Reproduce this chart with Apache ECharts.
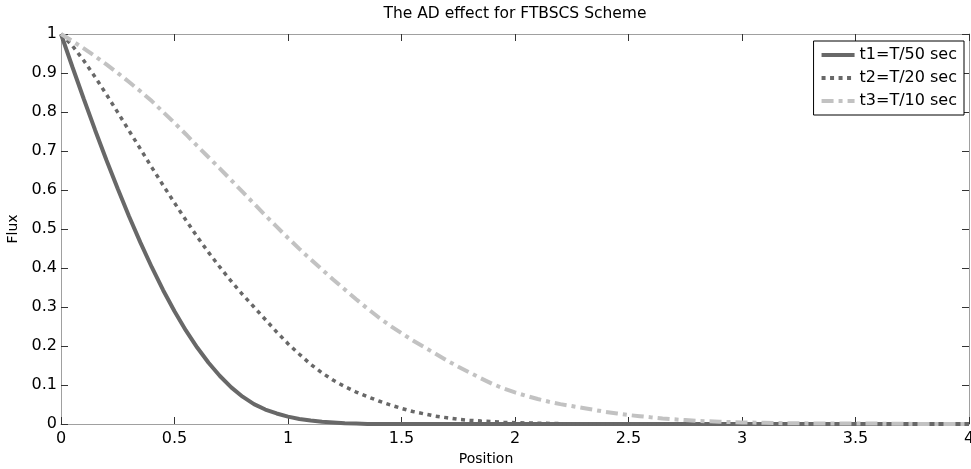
<!DOCTYPE html>
<html>
<head>
<meta charset="utf-8">
<title>The AD effect for FTBSCS Scheme</title>
<script src="https://cdn.jsdelivr.net/npm/echarts@6/dist/echarts.min.js"></script>
<style>
  html, body { margin: 0; padding: 0; background: #fff; }
  #chart { width: 971px; height: 469px; }
</style>
</head>
<body>
<div id="chart"></div>
<script>
// Flux profiles at three times (position step 0.05, tail flat at zero up to 4)
const seriesNames = ['t1=T/50 sec', 't2=T/20 sec', 't3=T/10 sec'];

const pos1 = [0, 0.05, 0.1, 0.15, 0.2, 0.25, 0.3, 0.35, 0.4, 0.45, 0.5, 0.55, 0.6, 0.65, 0.7,
  0.75, 0.8, 0.85, 0.9, 0.95, 1.0, 1.05, 1.1, 1.15, 1.2, 1.25, 1.3, 1.35, 4.0];
const flux1 = [1.0, 0.916, 0.834, 0.754, 0.677, 0.603, 0.532, 0.465, 0.402, 0.343, 0.289, 0.24, 0.196, 0.157, 0.123,
  0.094, 0.07, 0.051, 0.037, 0.027, 0.019, 0.013, 0.009, 0.006, 0.004, 0.002, 0.001, 0, 0];

const pos2 = [0, 0.05, 0.1, 0.15, 0.2, 0.25, 0.3, 0.35, 0.4, 0.45, 0.5, 0.55, 0.6, 0.65, 0.7,
  0.75, 0.8, 0.85, 0.9, 0.95, 1.0, 1.05, 1.1, 1.15, 1.2, 1.25, 1.3, 1.35, 1.4, 1.45,
  1.5, 1.55, 1.6, 1.65, 1.7, 1.75, 1.8, 1.85, 1.9, 1.95, 2.0, 2.1, 2.2, 2.3, 4.0];
const flux2 = [1.0, 0.97, 0.932, 0.89, 0.845, 0.799, 0.752, 0.705, 0.658, 0.612, 0.567, 0.523, 0.48, 0.44, 0.402,
  0.366, 0.332, 0.30, 0.268, 0.236, 0.206, 0.179, 0.153, 0.131, 0.112, 0.096, 0.082, 0.07, 0.059, 0.049,
  0.04, 0.032, 0.026, 0.02, 0.016, 0.012, 0.0095, 0.0075, 0.006, 0.0045, 0.0035, 0.002, 0.001, 0, 0];

const pos3 = [0, 0.05, 0.1, 0.15, 0.2, 0.25, 0.3, 0.35, 0.4, 0.45, 0.5, 0.55, 0.6, 0.65, 0.7,
  0.75, 0.8, 0.85, 0.9, 0.95, 1.0, 1.05, 1.1, 1.15, 1.2, 1.25, 1.3, 1.35, 1.4, 1.45,
  1.5, 1.55, 1.6, 1.65, 1.7, 1.75, 1.8, 1.85, 1.9, 1.95, 2.0, 2.05, 2.1, 2.15, 2.2,
  2.25, 2.3, 2.35, 2.4, 2.45, 2.5, 2.55, 2.6, 2.65, 2.7, 2.75, 2.8, 2.85, 2.9, 2.95,
  3.0, 3.1, 3.2, 3.4, 3.6, 3.8, 4.0];
const flux3 = [1.0, 0.982, 0.963, 0.943, 0.922, 0.9, 0.877, 0.853, 0.828, 0.8, 0.772, 0.743, 0.713, 0.684, 0.655,
  0.625, 0.595, 0.565, 0.535, 0.506, 0.477, 0.449, 0.422, 0.396, 0.37, 0.345, 0.32, 0.296, 0.273, 0.252,
  0.233, 0.214, 0.197, 0.18, 0.163, 0.147, 0.132, 0.117, 0.103, 0.091, 0.081, 0.072, 0.064, 0.057, 0.051,
  0.046, 0.041, 0.036, 0.031, 0.027, 0.023, 0.02, 0.017, 0.014, 0.012, 0.01, 0.008, 0.007, 0.006, 0.005,
  0.004, 0.003, 0.002, 0.001, 0.001, 0, 0];

const xTicks = { min: 0, max: 4, interval: 0.5 };
const yTicks = { min: 0, max: 1, interval: 0.1 };

function pairs(xs, ys) {
  return xs.map((x, i) => [x, ys[i]]);
}

const FONT = '"DejaVu Sans", Arial, sans-serif';
const axisLineStyle = { color: '#a0a0a0', width: 1 };
const tickStyle = { show: true, inside: true, length: 7, lineStyle: { color: '#333', width: 1 } };

function xAxisDef(position, showLabels) {
  return {
    type: 'value', position: position,
    min: xTicks.min, max: xTicks.max, interval: xTicks.interval,
    axisLine: { show: true, onZero: false, lineStyle: axisLineStyle },
    axisTick: tickStyle,
    axisLabel: { show: showLabels, color: '#000', fontSize: 16, fontFamily: FONT, margin: 7 },
    splitLine: { show: false }
  };
}
function yAxisDef(position, showLabels) {
  return {
    type: 'value', position: position,
    min: yTicks.min, max: yTicks.max, interval: yTicks.interval,
    axisLine: { show: true, onZero: false, lineStyle: axisLineStyle },
    axisTick: tickStyle,
    axisLabel: { show: showLabels, color: '#000', fontSize: 16, fontFamily: FONT, margin: 4 },
    splitLine: { show: false }
  };
}

const xMain = xAxisDef('bottom', true);
xMain.name = 'Position';
xMain.nameLocation = 'middle';
xMain.nameGap = 27;
xMain.nameTextStyle = { color: '#000', fontSize: 14, fontFamily: FONT, padding: [0, 58, 0, 0] };

const yMain = yAxisDef('left', true);
yMain.name = 'Flux';
yMain.nameLocation = 'middle';
yMain.nameGap = 31;
yMain.nameTextStyle = { color: '#000', fontSize: 14, fontFamily: FONT };

const chart = echarts.init(document.getElementById('chart'), null, { renderer: 'canvas' });

chart.setOption({
  animation: false,
  backgroundColor: '#fff',
  title: {
    text: 'The AD effect for FTBSCS Scheme',
    left: 515,
    top: 6,
    padding: 0,
    textAlign: 'center',
    textStyle: { color: '#000', fontSize: 15.5, fontWeight: 'normal', fontFamily: FONT }
  },
  grid: { left: 61, right: 2, top: 34, bottom: 45, outerBoundsMode: 'none' },
  xAxis: [xMain, xAxisDef('top', false)],
  yAxis: [yMain, yAxisDef('right', false)],
  legend: {
    orient: 'vertical',
    right: 7,
    top: 41,
    padding: [6, 7, 6, 6],
    itemWidth: 33,
    itemHeight: 14,
    itemGap: 7,
    backgroundColor: '#fff',
    borderColor: '#000',
    borderWidth: 1,
    borderRadius: 0,
    itemStyle: { opacity: 0 },
    lineStyle: { width: 4 },
    textStyle: { color: '#000', fontSize: 16, fontFamily: FONT },
    data: seriesNames
  },
  series: [
    {
      name: seriesNames[0], type: 'line', data: pairs(pos1, flux1),
      symbol: 'none', smooth: false, clip: false,
      lineStyle: { color: '#686868', width: 4, type: 'solid' },
      itemStyle: { color: '#686868' }
    },
    {
      name: seriesNames[1], type: 'line', data: pairs(pos2, flux2),
      symbol: 'none', smooth: false, clip: false,
      lineStyle: { color: '#686868', width: 3.5, type: [4, 4.5], cap: 'butt' },
      itemStyle: { color: '#686868' }
    },
    {
      name: seriesNames[2], type: 'line', data: pairs(pos3, flux3),
      symbol: 'none', smooth: false, clip: false,
      lineStyle: { color: '#c2c2c2', width: 4, type: [12, 5, 4, 5], cap: 'butt' },
      itemStyle: { color: '#c2c2c2' }
    }
  ]
});
</script>
</body>
</html>
